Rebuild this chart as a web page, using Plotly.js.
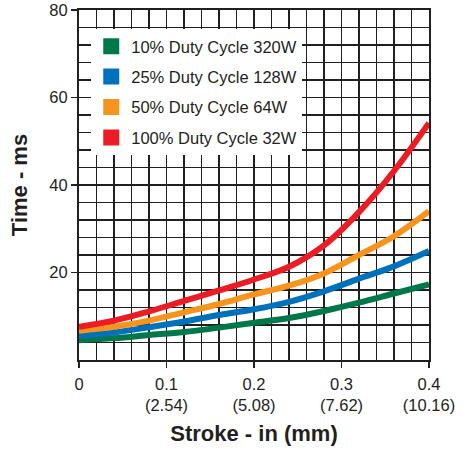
<!DOCTYPE html>
<html>
<head>
<meta charset="utf-8">
<script src="https://cdn.plot.ly/plotly-3.0.1.min.js"></script>
<style>html,body{margin:0;padding:0;background:#fff;}#chart{width:463px;height:450px;}</style>
</head>
<body>
<div id="chart"></div>
<script>
// Data
const stroke = [0, 0.04, 0.08, 0.12, 0.16, 0.2, 0.24, 0.28, 0.32, 0.36, 0.4];
const duty10 = [4.5, 5.0, 5.7, 6.4, 7.4, 8.5, 9.6, 11.2, 13.1, 15.2, 17.3];
const duty25 = [5.6, 6.3, 7.5, 8.8, 10.3, 11.6, 13.3, 15.7, 18.6, 21.4, 24.9];
const duty50 = [6.7, 7.6, 9.0, 10.9, 12.8, 15.0, 17.0, 19.8, 24.0, 28.3, 34.0];
const duty100 = [7.6, 9.0, 11.1, 13.5, 15.9, 18.4, 21.3, 26.2, 33.8, 43.2, 54.2];
const seriesNames = ["10% Duty Cycle 320W", "25% Duty Cycle 128W", "50% Duty Cycle 64W", "100% Duty Cycle 32W"];
const seriesColors = ["#00784a", "#0071bc", "#f7941d", "#ed1c24"];
const xTickVals = [0, 0.1, 0.2, 0.3, 0.4];
const xTickText = ["0", "0.1<br>(2.54)", "0.2<br>(5.08)", "0.3<br>(7.62)", "0.4<br>(10.16)"];
const yTickVals = [20, 40, 60, 80];

const allY = [duty10, duty25, duty50, duty100];
const traces = [];
allY.forEach((ys, i) => {
  traces.push({
    x: stroke, y: ys, mode: 'lines', type: 'scatter',
    line: {color: seriesColors[i], width: 6, shape: 'spline', smoothing: 1},
    showlegend: false, hoverinfo: 'skip'
  });
});
allY.forEach((ys, i) => {
  traces.push({
    x: [null], y: [null], mode: 'markers', type: 'scatter',
    name: seriesNames[i], legendgroup: 'g' + i,
    marker: {symbol: 'square', size: 17, color: seriesColors[i]},
    showlegend: true
  });
});

const ink = '#231f20';
const layout = {
  width: 463, height: 450,
  margin: {l: 79, r: 34, t: 10, b: 90},
  paper_bgcolor: '#fff', plot_bgcolor: '#fff',
  font: {family: 'Liberation Sans, Arial, sans-serif', size: 16.5, color: ink},
  showlegend: true,
  legend: {
    x: 0.035, y: 0.946, xanchor: 'left', yanchor: 'top',
    bgcolor: '#fff', borderwidth: 0,
    font: {size: 16.5, color: ink},
    tracegroupgap: 6, traceorder: 'grouped'
  },
  xaxis: {
    range: [0, 0.4], tickmode: 'array', tickvals: xTickVals, ticktext: xTickText,
    showgrid: true, gridcolor: ink, gridwidth: 1.6, zeroline: false,
    showline: true, linecolor: ink, linewidth: 2, mirror: true,
    ticks: 'outside', ticklen: 6, tickcolor: ink, tickwidth: 1.5,
    ticklabelstandoff: 2,
    minor: {dtick: 0.02, showgrid: true, gridcolor: ink, gridwidth: 1.6, ticks: ''},
    title: {text: '<b>Stroke - in (mm)</b>', font: {size: 22, color: ink}, standoff: 12},
    fixedrange: true
  },
  yaxis: {
    range: [0, 80], tickmode: 'array', tickvals: yTickVals,
    showgrid: true, gridcolor: ink, gridwidth: 1.6, zeroline: false,
    showline: true, linecolor: ink, linewidth: 2, mirror: true,
    ticks: 'outside', ticklen: 6, tickcolor: ink, tickwidth: 1.5,
    minor: {dtick: 4, showgrid: true, gridcolor: ink, gridwidth: 1.6, ticks: ''},
    title: {text: '<b>Time - ms</b>', font: {size: 22, color: ink}, standoff: 16},
    fixedrange: true
  }
};

Plotly.newPlot('chart', traces, layout, {displayModeBar: false, staticPlot: true});
</script>
</body>
</html>
